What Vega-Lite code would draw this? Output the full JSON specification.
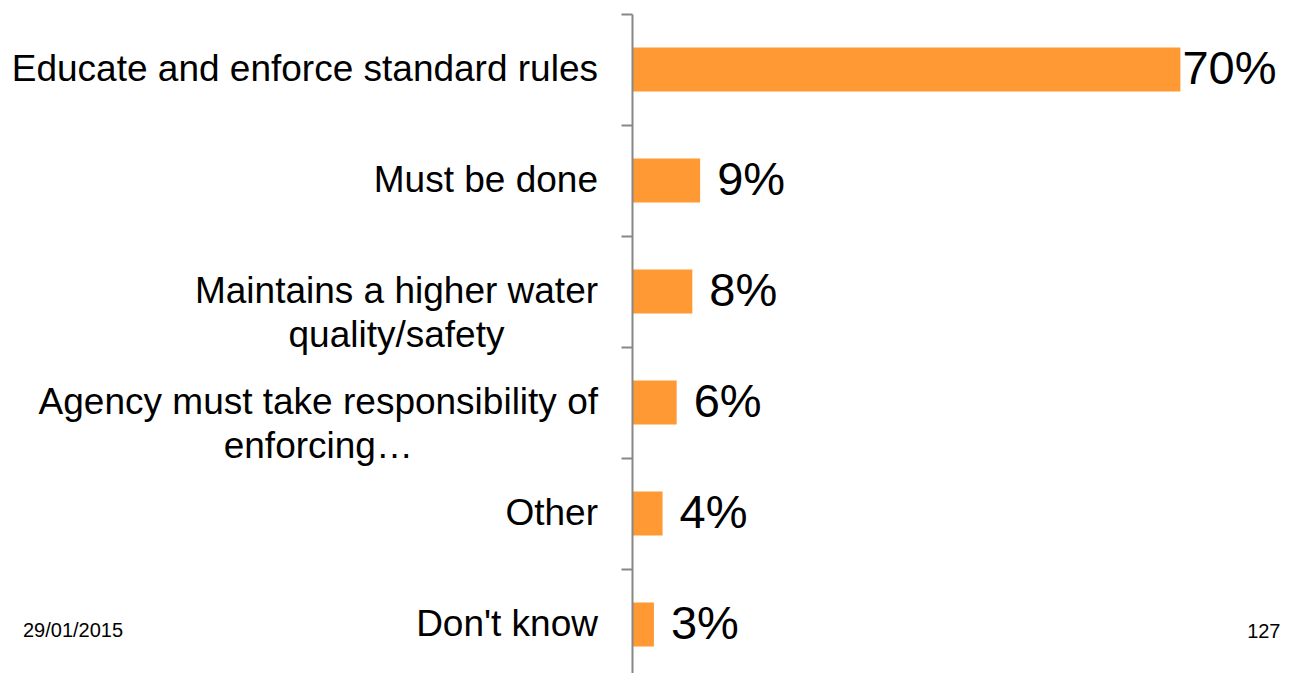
{
  "$schema": "https://vega.github.io/schema/vega-lite/v6.json",
  "autosize": "none",
  "width": 662,
  "height": 659,
  "padding": {"left": 632, "top": 14, "right": 0, "bottom": 0},
  "background": "white",
  "config": {"view": {"stroke": null}, "font": "Liberation Sans"},
  "title": {
    "text": "29/01/2015",
    "orient": "top",
    "anchor": "start",
    "frame": "group",
    "align": "left",
    "baseline": "middle",
    "offset": 0,
    "dx": -609,
    "dy": 638,
    "font": "Liberation Sans",
    "fontSize": 20,
    "fontWeight": "normal",
    "color": "#000000"
  },
  "data": {
    "values": [
      {"answer": "Educate and enforce standard rules", "share": 0.70},
      {"answer": "Must be done", "share": 0.087},
      {"answer": "Maintains a higher water|quality/safety", "share": 0.077},
      {"answer": "Agency must take responsibility of|enforcing…", "share": 0.057},
      {"answer": "Other", "share": 0.039},
      {"answer": "Don't know", "share": 0.028}
    ]
  },
  "encoding": {
    "y": {
      "field": "answer",
      "type": "nominal",
      "sort": null,
      "scale": {"range": [0, 666], "paddingInner": 0, "paddingOuter": 0, "round": false},
      "axis": {
        "title": null,
        "labels": false,
        "tickBand": "extent",
        "tickSize": 11,
        "tickWidth": 2,
        "tickColor": "#878787",
        "domainColor": "#878787",
        "domainWidth": 2,
        "grid": false,
        "zindex": 1
      }
    },
    "x": {
      "field": "share",
      "type": "quantitative",
      "scale": {"domain": [0, 0.845], "nice": false},
      "axis": {
        "title": "127",
        "labels": false,
        "ticks": false,
        "domain": false,
        "grid": false,
        "titleX": 648,
        "titleY": -42,
        "titleAlign": "right",
        "titleBaseline": "middle",
        "titleFont": "Liberation Sans",
        "titleFontSize": 20,
        "titleFontWeight": "normal",
        "titleColor": "#000000"
      }
    }
  },
  "layer": [
    {"mark": {"type": "bar", "color": "#FF9933", "height": {"band": 0.396}}},
    {
      "transform": [{"filter": "datum.share > 0.5"}],
      "mark": {"type": "text", "align": "left", "baseline": "middle", "dx": 2, "font": "Liberation Sans", "fontSize": 47, "color": "#000000"},
      "encoding": {"text": {"field": "share", "type": "quantitative", "format": ".0%"}}
    },
    {
      "transform": [{"filter": "datum.share <= 0.5"}],
      "mark": {"type": "text", "align": "left", "baseline": "middle", "dx": 17, "font": "Liberation Sans", "fontSize": 47, "color": "#000000"},
      "encoding": {"text": {"field": "share", "type": "quantitative", "format": ".0%"}}
    },
    {
      "transform": [{"filter": "indexof(datum.answer, '|') < 0"}],
      "mark": {"type": "text", "align": "right", "baseline": "middle", "dx": -34, "font": "Liberation Sans", "fontSize": 37, "color": "#000000"},
      "encoding": {"x": {"datum": 0}, "text": {"field": "answer", "type": "nominal"}}
    },
    {
      "transform": [
        {"filter": "indexof(datum.answer, 'Maintains') >= 0"},
        {"calculate": "split(datum.answer, '|')", "as": "lines"}
      ],
      "mark": {"type": "text", "align": "center", "baseline": "middle", "dx": -235.5, "lineHeight": 44, "font": "Liberation Sans", "fontSize": 37, "color": "#000000"},
      "encoding": {"x": {"datum": 0}, "text": {"field": "lines"}}
    },
    {
      "transform": [
        {"filter": "indexof(datum.answer, 'Agency') >= 0"},
        {"calculate": "split(datum.answer, '|')", "as": "lines"}
      ],
      "mark": {"type": "text", "align": "center", "baseline": "middle", "dx": -313.7, "lineHeight": 44, "font": "Liberation Sans", "fontSize": 37, "color": "#000000"},
      "encoding": {"x": {"datum": 0}, "text": {"field": "lines"}}
    }
  ]
}
